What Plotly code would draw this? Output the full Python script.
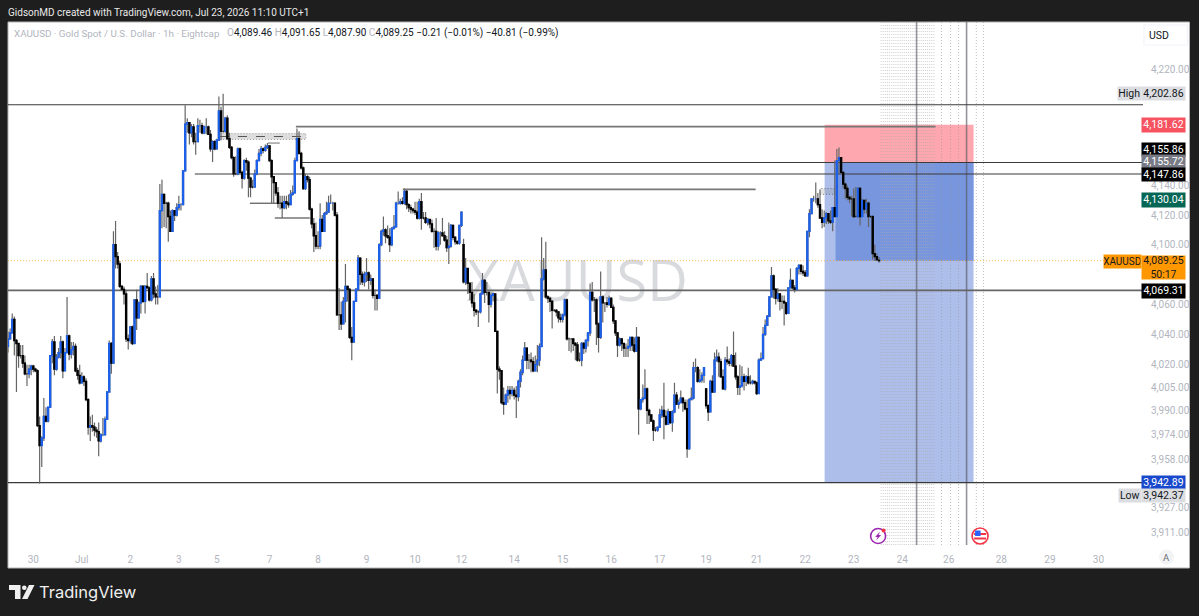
import math
import plotly.graph_objects as go

# ---------- data ----------
CLOSES = [
4037,4041,4050,4036,4034,4026,4026,4021,4014,4014,
4017,4019,4017,4016,3980,3967,3972,3986,3983,3992,
4026,4035,4017,4025,4028,4035,4016,4028,4039,4027,
4030,4032,4016,4013,4008,4012,4009,3997,3979,3980,
3979,3977,3976,3970,3974,3974,3984,4002,4034,4021,
4100,4092,4087,4072,4070,4067,4037,4036,4045,4034,
4063,4051,4061,4072,4062,4072,4071,4063,4077,4067,
4065,4065,4123,4134,4128,4128,4119,4109,4123,4120,
4125,4127,4127,4150,4182,4183,4176,4180,4170,4170,
4181,4181,4176,4180,4180,4175,4165,4170,4165,4171,
4191,4177,4177,4186,4172,4166,4159,4148,4148,4165,
4149,4145,4157,4156,4145,4139,4139,4148,4157,4162,
4165,4164,4166,4167,4157,4146,4142,4135,4128,4128,
4125,4129,4128,4127,4134,4135,4157,4172,4162,4152,
4138,4146,4144,4124,4114,4106,4099,4099,4117,4109,
4121,4122,4128,4128,4128,4120,4053,4053,4047,4062,
4072,4070,4038,4035,4062,4070,4091,4080,4075,4080,
4081,4076,4077,4066,4066,4064,4100,4109,4110,4106,
4105,4100,4111,4112,4128,4128,4129,4128,4136,4127,
4125,4124,4123,4122,4118,4129,4118,4118,4115,4117,
4114,4109,4109,4099,4108,4108,4106,4103,4098,4099,
4113,4105,4102,4101,4113,4122,4075,4084,4074,4068,
4061,4056,4055,4055,4067,4076,4068,4068,4060,4066,
4067,4042,4017,4016,3995,3994,4000,4003,4001,4003,
4000,3999,4009,4015,4023,4031,4023,4023,4022,4016,
4020,4023,4032,4077,4083,4065,4064,4062,4056,4056,
4055,4051,4050,4053,4063,4037,4037,4037,4034,4033,
4023,4023,4034,4031,4036,4041,4068,4063,4063,4047,
4038,4065,4061,4061,4060,4064,4058,4049,4041,4033,
4037,4034,4031,4031,4032,4038,4033,4029,4038,3991,
3997,3998,4004,3990,3987,3983,3977,3977,3979,3987,
3990,3986,3981,3989,3982,3989,4000,3994,3995,3998,
3995,3991,3965,3997,3998,4018,4018,4009,4010,4013,
4018,3993,3989,4009,4002,4023,4025,4022,4012,4004,
4023,4022,4021,4026,4019,4012,4005,4006,4012,4009,
4012,4008,4008,4009,4008,4001,4023,4024,4040,4046,
4052,4065,4079,4070,4064,4067,4062,4062,4061,4054,
4071,4076,4071,4070,4084,4086,4082,4081,4079,4109,
4121,4131,4131,4131,4127,4118,4115,4118,4121,4116,
4115,4125,4119,4157,4159,4149,4141,4138,4132,4131,
4131,4119,4119,4138,4119,4130,4124,4128,4119,4119,
4094,4092,4090,4089.25]

HIGHS = [
4042,4044,4054,4052,4037,4031,4033,4033,4026,4020,
4020,4020,4020,4018,4017,3986,3973,3998,3992,3992,
4026,4037,4039,4027,4031,4039,4036,4031,4065,4040,
4035,4035,4034,4018,4020,4015,4013,4011,3998,3986,
3987,3982,3979,3982,3975,3985,3986,4002,4036,4035,
4109,4116,4095,4089,4073,4072,4069,4040,4045,4046,
4063,4070,4062,4073,4073,4073,4081,4072,4079,4081,
4072,4073,4141,4144,4130,4129,4129,4123,4124,4123,
4128,4133,4128,4150,4195,4186,4183,4182,4182,4176,
4186,4185,4183,4181,4186,4181,4178,4171,4171,4172,
4201,4194,4202.86,4187,4188,4176,4167,4160,4160,4166,
4166,4150,4158,4159,4157,4146,4144,4151,4158,4165,
4167,4166,4168,4169,4167,4158,4146,4142,4139,4133,
4133,4133,4133,4134,4137,4140,4159,4179,4177,4163,
4153,4148,4147,4146,4125,4118,4115,4109,4128,4120,
4122,4129,4133,4134,4129,4127,4122,4071,4062,4065,
4087,4072,4071,4045,4062,4071,4093,4091,4082,4082,
4091,4082,4080,4077,4070,4067,4101,4110,4119,4111,
4113,4111,4112,4120,4129,4136,4131,4132,4138,4137,
4128,4127,4125,4129,4129,4131,4135,4122,4122,4118,
4117,4117,4111,4118,4109,4109,4118,4109,4106,4115,
4114,4113,4105,4103,4113,4122,4104,4091,4084,4075,
4075,4067,4057,4056,4068,4081,4077,4075,4068,4068,
4068,4067,4042,4019,4016,4005,4001,4006,4006,4006,
4005,4006,4010,4017,4026,4035,4030,4027,4028,4025,
4026,4033,4034,4105,4091,4102,4066,4065,4063,4057,
4057,4055,4054,4054,4064,4064,4038,4037,4037,4035,
4035,4028,4035,4035,4037,4041,4074,4075,4065,4064,
4048,4082,4066,4061,4065,4066,4065,4060,4049,4041,
4038,4037,4034,4034,4037,4038,4038,4038,4045,4038,
3997,4007,4017,4005,3991,3987,3984,3979,3979,3991,
3993,4008,3990,3991,3989,3990,4008,4002,3997,4003,
3998,3997,3997,3998,4005,4022,4024,4019,4017,4015,
4018,4004,3994,4010,4013,4028,4030,4028,4024,4017,
4025,4032,4024,4027,4042,4028,4013,4020,4019,4014,
4013,4018,4013,4010,4009,4009,4024,4028,4045,4050,
4053,4065,4085,4080,4071,4071,4064,4066,4066,4061,
4071,4084,4076,4073,4085,4087,4087,4086,4083,4109,
4124,4131,4133,4142,4135,4137,4124,4123,4122,4121,
4123,4125,4157,4165,4166,4159,4149,4142,4140,4133,
4133,4138,4139,4139,4139,4131,4129,4131,4129,4119,
4119,4100,4094,4091.65]

LOWS = [
4028,4037,4041,4026,4002,4018,4024,4018,4013,4006,
4011,4013,4015,4015,3979,3942.37,3953,3970,3982,3982,
3992,4021,4013,4016,4024,4024,4011,4016,4028,4023,
4024,4026,4015,4010,4007,4011,4006,3996,3974,3970,
3976,3973,3972,3960,3969,3973,3974,3984,4002,4014,
4021,4084,4084,4071,4069,4060,4035,4030,4034,4033,
4051,4043,4051,4054,4061,4054,4071,4062,4062,4064,
4060,4060,4065,4111,4112,4111,4102,4109,4109,4116,
4119,4123,4123,4127,4150,4176,4168,4173,4168,4161,
4171,4176,4175,4175,4175,4175,4163,4156,4164,4165,
4177,4171,4176,4176,4171,4165,4158,4146,4147,4147,
4148,4138,4144,4150,4132,4132,4138,4139,4147,4160,
4160,4162,4163,4165,4156,4128,4128,4133,4125,4124,
4118,4124,4124,4125,4127,4133,4135,4157,4161,4151,
4137,4137,4142,4123,4111,4095,4097,4097,4097,4109,
4109,4120,4127,4128,4123,4119,4053,4043,4043,4047,
4048,4062,4037,4023,4035,4062,4070,4073,4073,4072,
4075,4070,4073,4064,4056,4056,4064,4099,4106,4101,
4104,4095,4099,4110,4112,4127,4127,4127,4127,4124,
4122,4121,4121,4120,4117,4117,4110,4117,4114,4113,
4111,4108,4098,4096,4096,4100,4106,4102,4095,4087,
4098,4103,4100,4100,4100,4112,4074,4073,4067,4063,
4058,4052,4053,4045,4054,4067,4061,4066,4048,4058,
4062,4042,4001,4010,3994,3987,3994,3995,3997,3999,
3997,3985,3996,4005,4013,4023,4017,4017,4015,4015,
4019,4015,4019,4032,4076,4064,4061,4055,4044,4055,
4052,4048,4048,4048,4052,4036,4029,4028,4029,4023,
4022,4022,4019,4027,4028,4032,4039,4062,4055,4033,
4028,4037,4048,4055,4058,4059,4058,4047,4039,4025,
4032,4029,4025,4025,4025,4029,4029,4028,4029,3974,
3990,3995,3997,3981,3981,3983,3970,3976,3976,3979,
3985,3971,3980,3981,3981,3976,3988,3994,3991,3995,
3989,3990,3959,3964,3997,3997,4015,4008,4008,4008,
4008,3991,3983,3995,4002,4002,4022,4012,4012,4004,
4003,4020,4019,4019,4019,4010,4000,4000,4005,4003,
4006,4007,4007,4007,4007,4000,4005,4023,4039,4039,
4046,4052,4065,4064,4060,4062,4056,4057,4046,4053,
4054,4071,4070,4068,4070,4080,4080,4079,4079,4079,
4105,4121,4129,4128,4125,4118,4111,4112,4114,4114,
4114,4109,4119,4149,4148,4148,4138,4131,4130,4128,
4119,4118,4119,4118,4113,4120,4121,4121,4112,4118,
4090,4089,4089,4087.90]

FIRST_OPEN = 4032
GAP_OPENS = {216: 4100, 331: 4004, 413: 4089.46}

PRICE_TICKS = [4220, 4140, 4120, 4100, 4060, 4040, 4020, 4005, 3990, 3974, 3958, 3927, 3911]
DATE_BARS = [12, 35, 58, 81, 99, 124, 147, 170, 193, 215, 240, 263, 286, 309, 331, 355, 378, 401, 424, 446, 471, 494, 517]
DATE_LABELS = ["30", "Jul", "2", "3", "5", "7", "8", "9", "10", "12", "14", "15", "16", "17", "19", "21", "22", "23", "24", "26", "28", "29", "30"]

# price, first bar, last bar, colour, width
LEVELS = [
    (4195.3, 0, 539, "#3a3a3a", 1.2),
    (4180.3, 136.5, 439.8, "#777777", 1.8),
    (4155.72, 138.4, 539, "#3a3a3a", 1.2),
    (4147.86, 88.6, 539, "#3a3a3a", 1.2),
    (4137.4, 187.2, 354.5, "#777777", 1.8),
    (4069.31, 0, 539, "#666666", 1.8),
    (3942.89, 0, 539, "#3a3a3a", 1.2),
    (4169, 123.2, 128.9, "#888888", 1.2),
    (4128, 114.7, 127.5, "#555555", 1.2),
    (4118, 126.5, 143.1, "#333333", 1.2),
]
ENTRY, STOP, TARGET, CURRENT = 4155.72, 4181.62, 3942.89, 4089.25
POSITION_BARS = (387.2, 457.8)
ACTIVE_START_BAR = 392.4
SESSION_LINES = [430.8, 454.5]
DENSE_DOT_BARS = list(range(414, 440))
SPARSE_DOT_BARS = [442.6, 446.9, 450.7, 459.1, 462.5]

# ---------- page geometry ----------
L, R, T, B = 8, 1143.5, 22, 545
def px(x): return (x - L) / (R - L)
def py(y): return (B - y) / (B - T)

Y_TOP, Y_BOT = 4252.7, 3902.7

n = len(CLOSES)
assert n == len(HIGHS) == len(LOWS), (n, len(HIGHS), len(LOWS))
bars = list(range(n))
opens = [GAP_OPENS.get(i, CLOSES[i - 1] if i else FIRST_OPEN) for i in bars]
highs = [max(HIGHS[i], opens[i], CLOSES[i]) for i in bars]
lows = [min(LOWS[i], opens[i], CLOSES[i]) for i in bars]
body_hi = [max(o, c) for o, c in zip(opens, CLOSES)]
body_lo = [min(o, c) for o, c in zip(opens, CLOSES)]

fig = go.Figure()
# full candles: only their wicks stay visible, in grey
fig.add_trace(go.Candlestick(
    x=bars, open=opens, high=highs, low=lows, close=CLOSES, name="wicks",
    increasing=dict(line=dict(color="#666666", width=1.2), fillcolor="rgba(0,0,0,0)"),
    decreasing=dict(line=dict(color="#666666", width=1.2), fillcolor="rgba(0,0,0,0)"),
    whiskerwidth=0, showlegend=False, hoverinfo="skip"))
# bodies on top
fig.add_trace(go.Candlestick(
    x=bars, open=opens, high=body_hi, low=body_lo, close=CLOSES, name="XAUUSD",
    increasing=dict(line=dict(color="#1c5fe8", width=1.3), fillcolor="#1c5fe8"),
    decreasing=dict(line=dict(color="#000000", width=1.3), fillcolor="#000000"),
    whiskerwidth=0, showlegend=False))

shapes = []
# page: white chart panel on dark frame
shapes.append(dict(type="rect", xref="paper", yref="paper", x0=px(8), x1=px(1190), y0=py(22), y1=py(568),
                   fillcolor="#ffffff", line=dict(color="#b4b4b4", width=1), layer="below"))
# watermark
shapes.append(dict(type="rect", xref="x", yref="paper", x0=215, x1=325, y0=py(310), y1=py(256),
                   fillcolor="rgba(0,0,0,0)", line=dict(width=0), layer="below",
                   label=dict(text="XAUUSD", font=dict(family="Open Sans", size=56, color="#d9dadd"),
                              textposition="middle center")))
# position tool
shapes.append(dict(type="rect", xref="x", yref="y", x0=POSITION_BARS[0], x1=POSITION_BARS[1], y0=ENTRY, y1=STOP,
                   fillcolor="rgba(255,120,130,0.65)", line=dict(width=0), layer="below"))
shapes.append(dict(type="rect", xref="x", yref="y", x0=POSITION_BARS[0], x1=POSITION_BARS[1], y0=TARGET, y1=ENTRY,
                   fillcolor="rgb(173,190,235)", line=dict(width=0), layer="below"))
shapes.append(dict(type="rect", xref="x", yref="y", x0=ACTIVE_START_BAR, x1=POSITION_BARS[1], y0=CURRENT, y1=ENTRY,
                   fillcolor="rgb(120,150,222)", line=dict(width=0), layer="below"))
# dotted session columns
for b in DENSE_DOT_BARS:
    shapes.append(dict(type="line", xref="x", yref="y", x0=b, x1=b, y0=Y_BOT, y1=Y_TOP,
                       line=dict(color="rgba(170,170,170,0.55)", width=1, dash="1px,2px"), layer="below"))
for b in SPARSE_DOT_BARS:
    shapes.append(dict(type="line", xref="x", yref="y", x0=b, x1=b, y0=Y_BOT, y1=Y_TOP,
                       line=dict(color="rgba(150,150,150,0.6)", width=1, dash="1px,2px"), layer="below"))
for b in SESSION_LINES:
    shapes.append(dict(type="line", xref="x", yref="y", x0=b, x1=b, y0=Y_BOT, y1=Y_TOP,
                       line=dict(color="rgba(90,90,100,0.65)", width=1.6), layer="below"))
# current-price line
shapes.append(dict(type="line", xref="x", yref="y", x0=0, x1=539, y0=CURRENT, y1=CURRENT,
                   line=dict(color="rgba(255,152,0,0.6)", width=1, dash="1px,2px"), layer="below"))
# horizontal levels
for price, b0, b1, col, w in LEVELS:
    shapes.append(dict(type="line", xref="x", yref="y", x0=b0, x1=b1, y0=price, y1=price,
                       line=dict(color=col, width=w), layer="below"))
# small consolidation boxes
shapes.append(dict(type="rect", xref="x", yref="y", x0=100.5, x1=141.2, y0=4171.5, y1=4175.5,
                   fillcolor="rgba(120,120,120,0.25)", line=dict(color="rgba(120,120,120,0.7)", width=1, dash="1px,2px"), layer="below"))
shapes.append(dict(type="line", xref="x", yref="y", x0=100.5, x1=141.2, y0=4173.5, y1=4173.5,
                   line=dict(color="#555555", width=1.2, dash="dash"), layer="below"))
shapes.append(dict(type="rect", xref="x", yref="y", x0=385, x1=392, y0=4134, y1=4138,
                   fillcolor="rgba(120,120,120,0.2)", line=dict(color="rgba(90,90,90,0.7)", width=1, dash="1px,2px"), layer="below"))

# TradingView logo
def path(points):
    return "M" + " L".join(f"{px(x):.5f},{py(y):.5f}" for x, y in points) + " Z"
for pts in ([(9, 585), (20.5, 585), (20.5, 599), (15, 599), (15, 590), (9, 590)],
            [(29, 585), (34.5, 585), (27.5, 599), (22, 599)]):
    shapes.append(dict(type="path", xref="paper", yref="paper", path=path(pts), fillcolor="#f0f0f0", line=dict(width=0)))
shapes.append(dict(type="circle", xref="paper", yref="paper", x0=px(22), x1=px(26.6), y0=py(590), y1=py(585.4),
                   fillcolor="#f0f0f0", line=dict(width=0)))

# event icons
def circle(cx, cy, r, fill, line, w):
    shapes.append(dict(type="circle", xref="paper", yref="paper", x0=px(cx - r), x1=px(cx + r), y0=py(cy + r), y1=py(cy - r),
                       fillcolor=fill, line=dict(color=line, width=w)))
circle(878.5, 536, 7.5, "#ffffff", "#9c27b0", 1.6)
shapes.append(dict(type="path", xref="paper", yref="paper",
                   path=path([(880.5, 531.5), (875.5, 537), (878, 537), (876.5, 540.5), (881.5, 535), (879, 535)]),
                   fillcolor="#9c27b0", line=dict(width=0)))
circle(884, 530.5, 2, "#f23645", "#f23645", 0)
circle(980.5, 536, 8, "#ffffff", "#f23645", 1.6)
shapes.append(dict(type="path", xref="paper", yref="paper",
                   path=path([(974.5, 533), (986.5, 533), (986.5, 535), (974.5, 535)]), fillcolor="#f23645", line=dict(width=0)))
shapes.append(dict(type="path", xref="paper", yref="paper",
                   path=path([(974.5, 537.5), (986.5, 537.5), (986.5, 539.5), (974.5, 539.5)]), fillcolor="#f23645", line=dict(width=0)))
shapes.append(dict(type="path", xref="paper", yref="paper",
                   path=path([(975.5, 530.5), (981, 530.5), (981, 536), (975.5, 536)]), fillcolor="#2962ff", line=dict(width=0)))

# ---------- text ----------
ann = []
def text(x, y, s, size=11, color="#131722", anchor="left", family="Roboto"):
    ann.append(dict(xref="paper", yref="paper", x=px(x), y=py(y), text=s, showarrow=False, xanchor=anchor, yanchor="middle",
                    font=dict(family=family, size=size, color=color), borderpad=0))
def badge(x0, x1, yc, h, s, bg, fg, size=10.5):
    ann.append(dict(xref="paper", yref="paper", x=px((x0 + x1) / 2), y=py(yc), text=s, showarrow=False,
                    xanchor="center", yanchor="middle", width=x1 - x0, height=h, bgcolor=bg, borderpad=0,
                    font=dict(family="Roboto", size=size, color=fg)))

text(7, 13, "GidsonMD created with TradingView.com, Jul 23, 2026 11:10 UTC+1", 10, "#e8e8e8")
G = "#b2b5be"
text(13, 33, "XAUUSD · Gold Spot / U.S. Dollar · 1h · Eightcap", 9.8, G)
text(226, 33, f"<span style='color:{G}'>O</span>4,089.46 <span style='color:{G}'>H</span>4,091.65 "
              f"<span style='color:{G}'>L</span>4,087.90 <span style='color:{G}'>C</span>4,089.25 −0.21 (−0.01%) −40.81 (−0.99%)", 10)
text(38, 592, "TradingView", 16.5, "#f0f0f0", family="Inter")

BX0, BX1 = 1143, 1186
badge(BX0, BX1, 93.5, 13, "4,202.86", "#dcdde0", "#131722")
badge(1119, 1141.5, 93.5, 13, "High", "#dcdde0", "#131722")
badge(BX0, BX1, 125, 13.5, "4,181.62", "#f7525f", "#ffffff")
badge(BX0, BX1, 149.5, 13, "4,155.86", "#000000", "#ffffff")
badge(BX0, BX1, 162, 13, "4,155.72", "#787b86", "#ffffff")
badge(BX0, BX1, 174.5, 13, "4,147.86", "#000000", "#ffffff")
badge(BX0, BX1, 200.5, 13.5, "4,130.04", "#056656", "#ffffff")
badge(BX0, BX1, 267, 23, "4,089.25<br>50:17", "#ff9800", "#131722")
badge(1105, 1141.5, 261.5, 13, "XAUUSD", "#ff9800", "#131722", 10)
badge(BX0, BX1, 291, 13.5, "4,069.31", "#000000", "#ffffff")
badge(BX0, BX1, 482.5, 13, "3,942.89", "#1848cc", "#ffffff")
badge(BX0, BX1, 495, 13, "3,942.37", "#dcdde0", "#131722")
badge(1120, 1141.5, 495.5, 13, "Low", "#dcdde0", "#131722")
shapes.append(dict(type="rect", xref="paper", yref="paper", x0=px(1144.5), x1=px(1188), y0=py(45), y1=py(25),
                   fillcolor="#ffffff", line=dict(color="#f0f3fa", width=1.2)))
text(1160, 35, "USD", 10.5, "#131722", "center")
shapes.append(dict(type="circle", xref="paper", yref="paper", x0=px(1159.5), x1=px(1174.5), y0=py(564.5), y1=py(549.5),
                   fillcolor="#f2f3f5", line=dict(width=0)))
text(1167, 557, "A", 9.5, "#6a6d78", "center")

fig.update_layout(
    width=1199, height=616, autosize=False,
    margin=dict(l=L, r=1199 - R, t=T, b=616 - B, pad=0),
    paper_bgcolor="#1e1e1e", plot_bgcolor="rgba(255,255,255,0)",
    showlegend=False, shapes=shapes, annotations=ann, dragmode=False,
    xaxis=dict(type="linear", range=[0, (R - L) / 2.11], rangeslider=dict(visible=False),
               tickmode="array", tickvals=DATE_BARS, ticktext=DATE_LABELS, showgrid=False, zeroline=False,
               ticks="outside", ticklen=5, tickcolor="rgba(0,0,0,0)", showline=False,
               tickfont=dict(family="Roboto", size=10, color=G)),
    yaxis=dict(type="log", side="right", range=[math.log10(Y_BOT), math.log10(Y_TOP)],
               tickmode="array", tickvals=PRICE_TICKS, ticktext=[f"{v:,.2f}" for v in PRICE_TICKS],
               showgrid=False, zeroline=False, showline=False, ticks="outside", ticklen=5,
               tickcolor="rgba(0,0,0,0)", tickfont=dict(family="Roboto", size=10, color=G)),
)
fig.write_html("out.html", config=dict(displayModeBar=False),
               post_script="document.body.style.margin='0';document.documentElement.style.overflow='hidden';")
